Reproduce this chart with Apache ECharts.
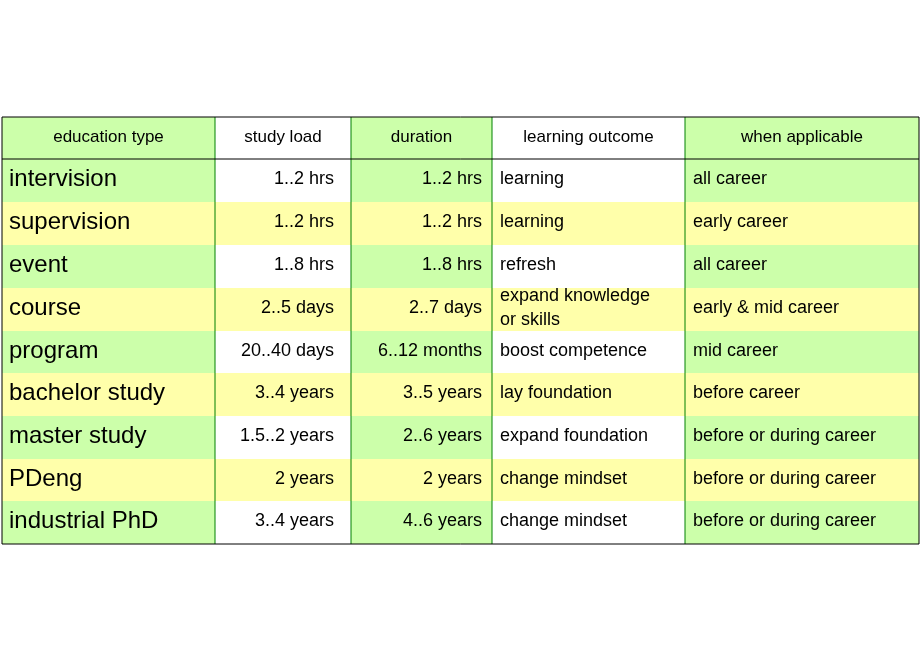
<!DOCTYPE html>
<html>
<head>
<meta charset="utf-8">
<title>education types</title>
<script src="https://cdn.jsdelivr.net/npm/echarts@6/dist/echarts.min.js"></script>
</head>
<body style="margin:0;padding:0;background:#fff;">
<div id="main" style="width:920px;height:660px;"></div>
<script>
// table content
var headers = ['education type', 'study load', 'duration', 'learning outcome', 'when applicable'];
var types = ['intervision', 'supervision', 'event', 'course', 'program', 'bachelor study', 'master study', 'PDeng', 'industrial PhD'];
var studyLoad = ['1..2 hrs', '1..2 hrs', '1..8 hrs', '2..5 days', '20..40 days', '3..4 years', '1.5..2 years', '2 years', '3..4 years'];
var duration = ['1..2 hrs', '1..2 hrs', '1..8 hrs', '2..7 days', '6..12 months', '3..5 years', '2..6 years', '2 years', '4..6 years'];
var outcome = ['learning', 'learning', 'refresh', 'expand knowledge\nor skills', 'boost competence', 'lay foundation', 'expand foundation', 'change mindset', 'change mindset'];
var applicable = ['all career', 'early career', 'all career', 'early & mid career', 'mid career', 'before career', 'before or during career', 'before or during career', 'before or during career'];

// layout (pixels)
var colEdges = [2, 215, 351, 492, 685, 919];
var rowEdges = [117, 159, 202, 245, 288, 331, 373, 416, 459, 501, 544];
var GREEN = '#ccffaa', YELLOW = '#ffffaa', WHITE = '#ffffff';

var columns = [types, studyLoad, duration, outcome, applicable];
var cells = [];
for (var c = 0; c < 5; c++) {
    cells.push([c, 0, headers[c]]);
    for (var r = 0; r < types.length; r++) cells.push([c, r + 1, columns[c][r]]);
}

function cellFill(c, r) {
    if (r % 2 == 1) return WHITE == null ? null : (r % 2 == 1 ? (c == 1 || c == 3 ? WHITE : GREEN) : YELLOW);
    return YELLOW;
}
// header and odd data rows: green with white columns; even data rows: yellow
function fillFor(c, r) {
    if (r % 2 == 0 && r != 0) return YELLOW;
    if (r == 0 || r % 2 == 1) return (c == 1 || c == 3) ? WHITE : GREEN;
}

var chart = echarts.init(document.getElementById('main'));
chart.setOption({
    animation: false,
    grid: { left: 0, right: 0, top: 0, bottom: 0 },
    xAxis: { type: 'value', min: 0, max: 920, show: false },
    yAxis: { type: 'value', min: 0, max: 660, inverse: true, show: false },
    series: [{
        type: 'custom',
        data: cells,
        renderItem: function (params, api) {
            var c = api.value(0), r = api.value(1);
            var text = cells[params.dataIndex][2];
            var p0 = api.coord([colEdges[c], rowEdges[r]]);
            var p1 = api.coord([colEdges[c + 1], rowEdges[r + 1]]);
            var w = p1[0] - p0[0], h = p1[1] - p0[1];
            var align, tx, size;
            if (r == 0) { align = 'center'; tx = p0[0] + w / 2; size = 17; }
            else if (c == 0) { align = 'left'; tx = p0[0] + 7; size = 24; }
            else if (c == 1) { align = 'right'; tx = p1[0] - 17; size = 18; }
            else if (c == 2) { align = 'right'; tx = p1[0] - 10; size = 18; }
            else { align = 'left'; tx = p0[0] + 8; size = 18; }
            return {
                type: 'group',
                children: [{
                    type: 'rect',
                    shape: { x: p0[0], y: p0[1], width: w, height: h },
                    style: { fill: fillFor(c, r), stroke: null }
                }, {
                    type: 'text',
                    style: {
                        x: tx, y: p0[1] + h / 2 - 1, text: text,
                        align: align, verticalAlign: 'middle',
                        font: size + 'px "Liberation Sans", Arial, sans-serif',
                        lineHeight: 24, fill: '#000'
                    }
                }]
            };
        }
    }, {
        // grid lines
        type: 'custom',
        data: [0],
        renderItem: function (params, api) {
            var kids = [];
            var top = api.coord([0, rowEdges[0]])[1], bot = api.coord([0, rowEdges[rowEdges.length - 1]])[1];
            for (var i = 1; i < colEdges.length - 1; i++) {
                var x = api.coord([colEdges[i], 0])[0];
                kids.push({ type: 'line', shape: { x1: x, y1: top, x2: x, y2: bot }, style: { stroke: '#008000', lineWidth: 1 } });
            }
            var l = api.coord([colEdges[0], 0])[0], rr = api.coord([colEdges[5], 0])[0];
            var hy = api.coord([0, rowEdges[1]])[1];
            kids.push({ type: 'line', shape: { x1: l, y1: hy, x2: rr, y2: hy }, style: { stroke: '#000', lineWidth: 1 } });
            kids.push({ type: 'rect', shape: { x: l, y: top, width: rr - l, height: bot - top }, style: { fill: null, stroke: '#000', lineWidth: 1 } });
            return { type: 'group', children: kids };
        }
    }]
});
</script>
</body>
</html>
